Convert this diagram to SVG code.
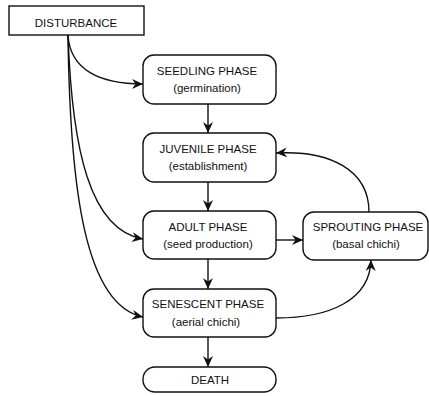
<svg xmlns="http://www.w3.org/2000/svg" width="429" height="396" viewBox="0 0 429 396">
<style>
.box{fill:#fff;stroke:#111;stroke-width:1.4}
.t{font-family:"Liberation Sans",Arial,sans-serif;font-size:11.5px;fill:#111;text-anchor:middle}
.c{fill:none;stroke:#111;stroke-width:1.4}
</style>
<defs>
<marker id="ah" markerUnits="userSpaceOnUse" markerWidth="12" markerHeight="10" refX="11" refY="5" orient="auto">
<path d="M0,0 L11,5 L0,10 L3.5,5 Z" fill="#111"/>
</marker>
</defs>
<rect width="429" height="396" fill="#fff"/>
<g id="connectors">
<path class="c" d="M68,35 C70,70 100,84 143,84" marker-end="url(#ah)"/>
<path class="c" d="M68,35 C72,150 90,230 143,239" marker-end="url(#ah)"/>
<path class="c" d="M68,35 C70,190 85,305 143,317" marker-end="url(#ah)"/>
<path class="c" d="M208,104 L208,133" marker-end="url(#ah)"/>
<path class="c" d="M208,182 L208,211" marker-end="url(#ah)"/>
<path class="c" d="M208,259 L208,289" marker-end="url(#ah)"/>
<path class="c" d="M208,337 L208,367" marker-end="url(#ah)"/>
<path class="c" d="M276,240 L303,240" marker-end="url(#ah)"/>
<path class="c" d="M369,212 C369,170 330,150 276,153" marker-end="url(#ah)"/>
<path class="c" d="M276,318 C330,318 370,300 371,260" marker-end="url(#ah)"/>
</g>
<g id="disturbance">
<rect class="box" x="9" y="6" width="135" height="29"/>
<text class="t" x="76" y="27">DISTURBANCE</text>
</g>
<g id="seedling">
<rect class="box" x="143" y="55" width="133" height="49" rx="11"/>
<text class="t" x="207" y="75">SEEDLING PHASE</text>
<text class="t" x="207" y="92">(germination)</text>
</g>
<g id="juvenile">
<rect class="box" x="143" y="133" width="133" height="49" rx="11"/>
<text class="t" x="208" y="153">JUVENILE PHASE</text>
<text class="t" x="208" y="170">(establishment)</text>
</g>
<g id="adult">
<rect class="box" x="143" y="211" width="133" height="48" rx="11"/>
<text class="t" x="208" y="231">ADULT PHASE</text>
<text class="t" x="208" y="248">(seed production)</text>
</g>
<g id="sprouting">
<rect class="box" x="303" y="212" width="125" height="48" rx="11"/>
<text class="t" x="368" y="231">SPROUTING PHASE</text>
<text class="t" x="366" y="248">(basal chichi)</text>
</g>
<g id="senescent">
<rect class="box" x="143" y="289" width="133" height="48" rx="11"/>
<text class="t" x="208" y="308">SENESCENT PHASE</text>
<text class="t" x="206" y="326">(aerial chichi)</text>
</g>
<g id="death">
<rect class="box" x="143" y="367" width="133" height="25" rx="12"/>
<text class="t" x="210" y="384">DEATH</text>
</g>
</svg>
